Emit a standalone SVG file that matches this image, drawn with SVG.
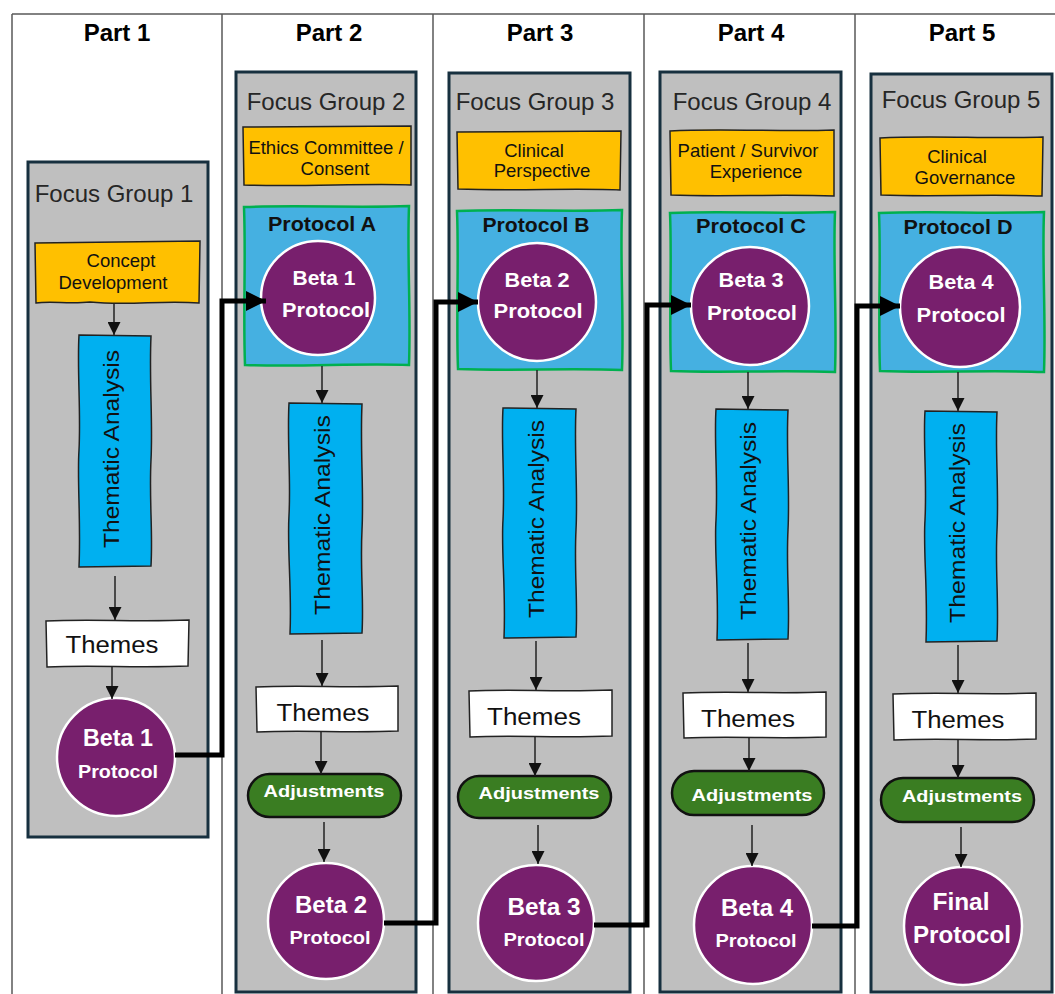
<svg xmlns="http://www.w3.org/2000/svg" width="1055" height="994" viewBox="0 0 1055 994">
<style>
.tbl{stroke:#595959;stroke-width:1.5;fill:none}
.hdr{font-family:"Liberation Sans",Arial,sans-serif;font-weight:bold;font-size:24px;fill:#000;text-anchor:middle}
.fg{fill:#bfbfbf;stroke:#17303f;stroke-width:3}
.fgt{font-family:"Liberation Sans",Arial,sans-serif;font-size:24px;fill:#262626;text-anchor:middle}
.yel{fill:#ffc000;stroke:#222;stroke-width:1.5}
.yt{font-family:"Liberation Sans",Arial,sans-serif;font-size:18.5px;fill:#111;text-anchor:middle}
.prot{fill:#45b0e1;stroke:#00b050;stroke-width:2.5}
.pt{font-family:"Liberation Sans",Arial,sans-serif;font-weight:bold;font-size:20px;fill:#111;text-anchor:middle}
.circ{fill:#781f6d;stroke:#fff;stroke-width:2.5}
.ct{font-family:"Liberation Sans",Arial,sans-serif;font-weight:bold;fill:#fff;text-anchor:middle}
.ta{fill:#00b0f0;stroke:#222;stroke-width:1.5}
.tat{font-family:"Liberation Sans",Arial,sans-serif;font-size:22px;fill:#111;text-anchor:middle}
.th{fill:#fff;stroke:#222;stroke-width:1.5}
.tht{font-family:"Liberation Sans",Arial,sans-serif;font-size:23px;fill:#111;text-anchor:middle}
.adj{fill:#3a7d22;stroke:#111;stroke-width:2.5}
.adt{font-family:"Liberation Sans",Arial,sans-serif;font-weight:bold;font-size:17px;fill:#fff;text-anchor:middle}
.thin{stroke:#222;stroke-width:1.5;fill:none;marker-end:url(#ah)}
.thick{stroke:#000;stroke-width:5;fill:none;marker-end:url(#bh)}
</style>
<defs>
<marker id="ah" viewBox="0 0 10 10" refX="10" refY="5" markerWidth="13" markerHeight="13" markerUnits="userSpaceOnUse" orient="auto"><path d="M0,0 L10,5 L0,10 z" fill="#111"/></marker>
<marker id="bh" viewBox="0 0 10 10" refX="10" refY="5" markerWidth="20" markerHeight="20" markerUnits="userSpaceOnUse" orient="auto"><path d="M0,0 L10,5 L0,10 z" fill="#000"/></marker>
</defs>
<rect x="0" y="0" width="1055" height="994" fill="#fff"/>
<g id="table">
<path class="tbl" d="M12,14 H1055 M12,14 V994 M222,14 V994 M433,14 V994 M644,14 V994 M855,14 V994"/>
<text class="hdr" x="117" y="41">Part 1</text>
<text class="hdr" x="329" y="41">Part 2</text>
<text class="hdr" x="540" y="41">Part 3</text>
<text class="hdr" x="751" y="41">Part 4</text>
<text class="hdr" x="962" y="41">Part 5</text>
</g>
<g id="fg1">
<rect class="fg" x="28" y="162" width="180" height="675"/>
<text class="fgt" x="114" y="202">Focus Group 1</text>
<path class="yel" d="M35,243 L200,241 L199,303 C160,300 130,306 90,302 C70,304 50,301 36,303 Z"/>
<text class="yt" x="121" y="267">Concept</text>
<text class="yt" x="113" y="289">Development</text>
<path class="ta" d="M79,335 L151,336 C149,380 153,420 151,460 C149,500 153,530 151,566 L79,567 C81,520 77,480 79,450 C81,410 77,370 79,335 Z"/>
<text class="tat" transform="translate(115,449) rotate(-90)" x="0" y="4" textLength="198" lengthAdjust="spacingAndGlyphs">Thematic Analysis</text>
<path class="th" d="M46,621 C90,619 140,622 189,620 L188,666 C140,668 90,665 47,667 Z"/>
<text class="tht" x="112" y="653" textLength="93" lengthAdjust="spacingAndGlyphs">Themes</text>
<circle class="circ" cx="116" cy="757" r="59"/>
<text class="ct" x="118" y="746" font-size="23" textLength="70" lengthAdjust="spacingAndGlyphs">Beta 1</text>
<text class="ct" x="118" y="778" font-size="18" textLength="80" lengthAdjust="spacingAndGlyphs">Protocol</text>
</g>
<g id="fg2">
<rect class="fg" x="236" y="72" width="180" height="920"/>
<text class="fgt" x="326" y="110">Focus Group 2</text>
<path class="yel" d="M243,127 L411,126 L411,185 C370,183 300,187 244,185 Z"/>
<text class="yt" x="326" y="154">Ethics Committee /</text>
<text class="yt" x="335" y="175">Consent</text>
<path class="prot" d="M244,207 C300,205 360,208 409,206 C407,260 411,310 409,365 C360,363 300,367 245,365 C243,310 246,260 244,207 Z"/>
<text class="pt" x="322" y="231" textLength="108" lengthAdjust="spacingAndGlyphs">Protocol A</text>
<circle class="circ" cx="318" cy="298" r="57"/>
<text class="ct" x="324" y="285" font-size="21" textLength="63" lengthAdjust="spacingAndGlyphs">Beta 1</text>
<text class="ct" x="326" y="317" font-size="21" textLength="88" lengthAdjust="spacingAndGlyphs">Protocol</text>
<path class="ta" d="M289,403 L362,404 C360,450 364,490 362,530 C360,570 364,600 362,633 L290,634 C292,590 287,550 289,515 C291,480 287,440 289,403 Z"/>
<text class="tat" transform="translate(325.5,515) rotate(-90)" x="0" y="4" textLength="200" lengthAdjust="spacingAndGlyphs">Thematic Analysis</text>
<path class="th" d="M256,687 C300,685 350,688 398,686 L398,731 C350,733 300,730 257,732 Z"/>
<text class="tht" x="323" y="721" textLength="93" lengthAdjust="spacingAndGlyphs">Themes</text>
<rect class="adj" x="248" y="774" width="153" height="43" rx="21.5"/>
<text class="adt" x="324" y="797" textLength="121" lengthAdjust="spacingAndGlyphs">Adjustments</text>
<circle class="circ" cx="326" cy="921" r="58"/>
<text class="ct" x="331" y="913" font-size="23" textLength="72" lengthAdjust="spacingAndGlyphs">Beta 2</text>
<text class="ct" x="330" y="944" font-size="18" textLength="81" lengthAdjust="spacingAndGlyphs">Protocol</text>
</g>
<g id="fg3">
<rect class="fg" x="449" y="73" width="181" height="919"/>
<text class="fgt" x="535" y="110">Focus Group 3</text>
<path class="yel" d="M457,132 L621,131 L620,190 C580,188 510,191 458,189 Z"/>
<text class="yt" x="534" y="157">Clinical</text>
<text class="yt" x="542" y="177">Perspective</text>
<path class="prot" d="M457,211 C510,209 570,212 622,210 C620,260 624,320 622,370 C570,368 510,371 458,369 C456,320 459,260 457,211 Z"/>
<text class="pt" x="536" y="232" textLength="107" lengthAdjust="spacingAndGlyphs">Protocol B</text>
<circle class="circ" cx="537" cy="302" r="59"/>
<text class="ct" x="537" y="287" font-size="21" textLength="65" lengthAdjust="spacingAndGlyphs">Beta 2</text>
<text class="ct" x="538" y="318" font-size="21" textLength="89" lengthAdjust="spacingAndGlyphs">Protocol</text>
<path class="ta" d="M503,408 L576,409 C574,450 578,490 576,530 C574,570 578,600 576,637 L504,638 C506,590 501,550 503,520 C505,480 501,440 503,408 Z"/>
<text class="tat" transform="translate(539.5,519) rotate(-90)" x="0" y="4" textLength="198" lengthAdjust="spacingAndGlyphs">Thematic Analysis</text>
<path class="th" d="M469,691 C510,689 560,692 612,690 L612,736 C560,738 510,735 470,737 Z"/>
<text class="tht" x="534" y="725" textLength="94" lengthAdjust="spacingAndGlyphs">Themes</text>
<rect class="adj" x="458" y="776" width="153" height="42" rx="21"/>
<text class="adt" x="539" y="799" textLength="121" lengthAdjust="spacingAndGlyphs">Adjustments</text>
<circle class="circ" cx="536" cy="923" r="58"/>
<text class="ct" x="544" y="915" font-size="23" textLength="73" lengthAdjust="spacingAndGlyphs">Beta 3</text>
<text class="ct" x="544" y="946" font-size="18" textLength="81" lengthAdjust="spacingAndGlyphs">Protocol</text>
</g>
<g id="fg4">
<rect class="fg" x="660" y="72" width="181" height="920"/>
<text class="fgt" x="752" y="110">Focus Group 4</text>
<path class="yel" d="M670,131 C720,128 780,132 834,130 L834,196 C780,194 720,197 671,195 Z"/>
<text class="yt" x="748" y="157">Patient / Survivor</text>
<text class="yt" x="756" y="178">Experience</text>
<path class="prot" d="M670,213 C720,211 780,214 835,212 C833,260 837,320 835,372 C780,370 720,373 671,371 C669,320 672,260 670,213 Z"/>
<text class="pt" x="751" y="233" textLength="110" lengthAdjust="spacingAndGlyphs">Protocol C</text>
<circle class="circ" cx="750" cy="306" r="59"/>
<text class="ct" x="751" y="287" font-size="21" textLength="65" lengthAdjust="spacingAndGlyphs">Beta 3</text>
<text class="ct" x="752" y="320" font-size="21" textLength="90" lengthAdjust="spacingAndGlyphs">Protocol</text>
<path class="ta" d="M716,409 L788,410 C786,450 790,490 788,530 C786,570 790,600 788,639 L717,640 C719,590 714,550 716,520 C718,480 714,440 716,409 Z"/>
<text class="tat" transform="translate(752,521) rotate(-90)" x="0" y="4" textLength="198" lengthAdjust="spacingAndGlyphs">Thematic Analysis</text>
<path class="th" d="M683,693 C730,691 780,694 826,692 L826,737 C780,739 730,736 684,738 Z"/>
<text class="tht" x="748" y="727" textLength="94" lengthAdjust="spacingAndGlyphs">Themes</text>
<rect class="adj" x="672" y="771" width="152" height="44" rx="22"/>
<text class="adt" x="752" y="801" textLength="121" lengthAdjust="spacingAndGlyphs">Adjustments</text>
<circle class="circ" cx="753" cy="925" r="59"/>
<text class="ct" x="757" y="916" font-size="23" textLength="72" lengthAdjust="spacingAndGlyphs">Beta 4</text>
<text class="ct" x="756" y="947" font-size="18" textLength="81" lengthAdjust="spacingAndGlyphs">Protocol</text>
</g>
<g id="fg5">
<rect class="fg" x="871" y="74" width="181" height="918"/>
<text class="fgt" x="961" y="108">Focus Group 5</text>
<path class="yel" d="M880,138 C930,135 990,139 1043,137 L1042,196 C990,194 930,197 881,195 Z"/>
<text class="yt" x="957" y="163">Clinical</text>
<text class="yt" x="965" y="184">Governance</text>
<path class="prot" d="M879,213 C930,211 990,214 1044,212 C1042,260 1046,320 1044,372 C990,370 930,373 880,371 C878,320 881,260 879,213 Z"/>
<text class="pt" x="958" y="234" textLength="109" lengthAdjust="spacingAndGlyphs">Protocol D</text>
<circle class="circ" cx="960" cy="307" r="60"/>
<text class="ct" x="961" y="289" font-size="21" textLength="65" lengthAdjust="spacingAndGlyphs">Beta 4</text>
<text class="ct" x="961" y="322" font-size="21" textLength="89" lengthAdjust="spacingAndGlyphs">Protocol</text>
<path class="ta" d="M925,411 L997,412 C995,450 999,490 997,530 C995,570 999,600 997,641 L926,642 C928,590 923,550 925,520 C927,480 923,440 925,411 Z"/>
<text class="tat" transform="translate(961,523) rotate(-90)" x="0" y="4" textLength="200" lengthAdjust="spacingAndGlyphs">Thematic Analysis</text>
<path class="th" d="M893,694 C940,692 990,695 1036,693 L1036,739 C990,741 940,738 894,740 Z"/>
<text class="tht" x="958" y="728" textLength="93" lengthAdjust="spacingAndGlyphs">Themes</text>
<rect class="adj" x="881" y="778" width="153" height="44" rx="22"/>
<text class="adt" x="962" y="802" textLength="120" lengthAdjust="spacingAndGlyphs">Adjustments</text>
<circle class="circ" cx="963" cy="926" r="59"/>
<text class="ct" x="961" y="910" font-size="24" textLength="57" lengthAdjust="spacingAndGlyphs">Final</text>
<text class="ct" x="962" y="943" font-size="24" textLength="98" lengthAdjust="spacingAndGlyphs">Protocol</text>
</g>
<g id="connectors">
<path class="thin" d="M114,303 V335"/>
<path class="thin" d="M115,576 V620"/>
<path class="thin" d="M112,666 V699"/>
<path class="thin" d="M322,366 V403"/>
<path class="thin" d="M322,640 V686"/>
<path class="thin" d="M321,731 V774"/>
<path class="thin" d="M324,822 V862"/>
<path class="thin" d="M537,370 V408"/>
<path class="thin" d="M536,641 V690"/>
<path class="thin" d="M535,736 V776"/>
<path class="thin" d="M538,825 V864"/>
<path class="thin" d="M748,372 V409"/>
<path class="thin" d="M748,643 V692"/>
<path class="thin" d="M749,737 V771"/>
<path class="thin" d="M752,825 V866"/>
<path class="thin" d="M958,372 V411"/>
<path class="thin" d="M958,645 V693"/>
<path class="thin" d="M958,739 V778"/>
<path class="thin" d="M961,827 V867"/>
<path class="thick" d="M175,755 H222 V301 H266"/>
<path class="thick" d="M384,923 H436 V302 H478"/>
<path class="thick" d="M594,925 H647 V305 H691"/>
<path class="thick" d="M812,926 H857 V306 H900"/>
</g>
</svg>
